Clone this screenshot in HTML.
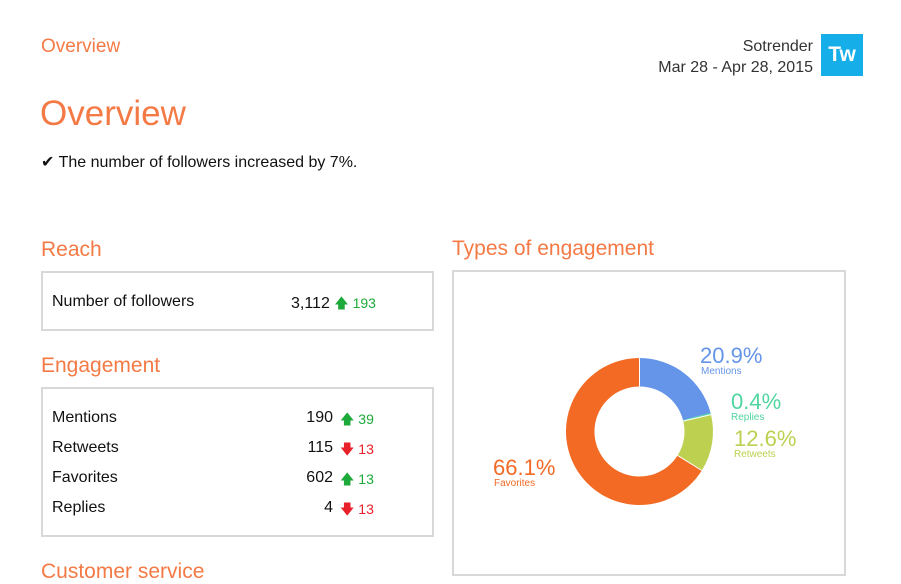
<!DOCTYPE html>
<html><head><meta charset="utf-8"><style>
body{margin:0;width:901px;height:584px;background:#fff;font-family:"Liberation Sans",sans-serif;position:relative;overflow:hidden}
.a{position:absolute;white-space:nowrap}
.or{color:#f47a45}
.box{position:absolute;border:2px solid #d8d8d8;box-sizing:border-box}
.row{position:absolute;font-size:16px;color:#111}
.up{color:#1daa3a}.dn{color:#e8202a}
</style></head><body>
<div class="a or" style="left:41px;top:36px;font-size:19px">Overview</div>
<div class="a" style="right:88px;top:36px;font-size:16px;color:#333;text-align:right;line-height:21px">Sotrender<br>Mar 28 - Apr 28, 2015</div>
<div class="a" style="left:821px;top:34px;width:42px;height:42px;background:#16aee8;color:#fff;font-weight:bold;font-size:21px;text-align:center;line-height:42px">Tw</div>
<div class="a or" style="left:40px;top:94px;font-size:35px">Overview</div>
<div class="a" style="left:41px;top:152px;font-size:16px;color:#111">✔&#xFE0E; The number of followers increased by 7%.</div>
<div class="a or" style="left:41px;top:238px;font-size:21px">Reach</div>
<div class="box" style="left:41px;top:271px;width:393px;height:60px"></div>
<div class="row" style="left:52px;top:293px">Number of followers</div>
<div class="row" style="left:291px;top:293px">3,112 <span class="up" style="font-size:14px">🡅&#xFE0E; 193</span></div>
<div class="a or" style="left:41px;top:354px;font-size:21px">Engagement</div>
<div class="box" style="left:41px;top:387px;width:393px;height:150px"></div>
<div class="row" style="left:52px;top:409px">Mentions</div>
<div class="row" style="left:52px;top:439px">Retweets</div>
<div class="row" style="left:52px;top:469px">Favorites</div>
<div class="row" style="left:52px;top:499px">Replies</div>
<div class="row" style="left:300px;top:409px;width:33px;text-align:right">190</div>
<div class="row" style="left:300px;top:439px;width:33px;text-align:right">115</div>
<div class="row" style="left:300px;top:469px;width:33px;text-align:right">602</div>
<div class="row" style="left:300px;top:499px;width:33px;text-align:right">4</div>
<div class="row up" style="left:340px;top:409px;font-size:14px">🡅&#xFE0E; 39</div>
<div class="row dn" style="left:340px;top:439px;font-size:14px">🡇&#xFE0E; 13</div>
<div class="row up" style="left:340px;top:469px;font-size:14px">🡅&#xFE0E; 13</div>
<div class="row dn" style="left:340px;top:499px;font-size:14px">🡇&#xFE0E; 13</div>
<div class="a or" style="left:41px;top:560px;font-size:21px">Customer service</div>
<div class="a or" style="left:452px;top:237px;font-size:21px">Types of engagement</div>
<div class="box" style="left:452px;top:270px;width:394px;height:306px"></div>
<svg class="a" style="left:0;top:0" width="901" height="584">
<path d="M639.5,358 A73.5,73.5 0 0 1 710.6,412.9 L683.0,420.1 A45,45 0 0 0 639.5,386.5Z" fill="#6495e8"/>
<path d="M710.6,412.9 A73.5,73.5 0 0 1 711.0,414.6 L683.3,421.1 A45,45 0 0 0 683.0,420.1Z" fill="#4fd6a0"/>
<path d="M711.0,414.6 A73.5,73.5 0 0 1 701.8,470.5 L677.6,455.4 A45,45 0 0 0 683.3,421.1Z" fill="#bdd050"/>
<path d="M701.8,470.5 A73.5,73.5 0 1 1 639.5,358 L639.5,386.5 A45,45 0 1 0 677.6,455.4Z" fill="#f26a24"/>
<g stroke="#fff" stroke-width="1"><line x1="639.5" y1="358" x2="639.5" y2="386.5"/><line x1="701.8" y1="470.5" x2="677.6" y2="455.4"/><line x1="711.0" y1="414.6" x2="683.3" y2="421.1"/></g>
<g font-family="Liberation Sans,sans-serif">
<text x="700" y="363" font-size="22" fill="#6495e8">20.9%</text>
<text x="701" y="374" font-size="10" fill="#6495e8">Mentions</text>
<text x="731" y="409" font-size="22" fill="#4fd6a0">0.4%</text>
<text x="731" y="420" font-size="10" fill="#4fd6a0">Replies</text>
<text x="734" y="446" font-size="22" fill="#bdd050">12.6%</text>
<text x="734" y="457" font-size="10" fill="#bdd050">Retweets</text>
<text x="493" y="475" font-size="22" fill="#f26a24">66.1%</text>
<text x="494" y="486" font-size="10" fill="#f26a24">Favorites</text>
</g>
</svg>
</body></html>
